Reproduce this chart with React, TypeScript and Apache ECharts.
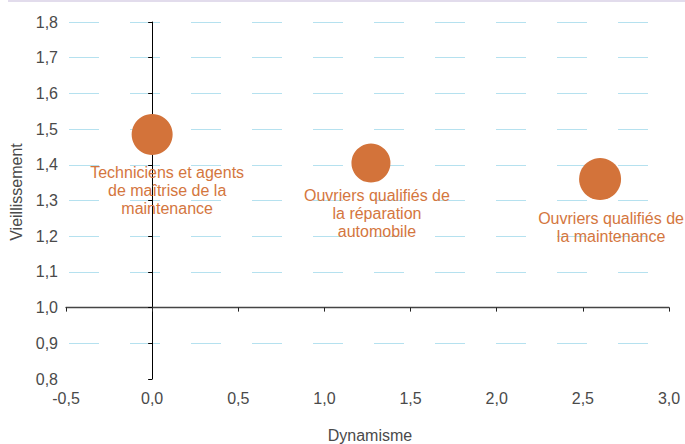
import React, { useEffect, useRef } from "react";
import * as echarts from "echarts";

// ---- Data ----
const categories = [
  "Techniciens et agents\nde maîtrise de la\nmaintenance",
  "Ouvriers qualifiés de\nla réparation\nautomobile",
  "Ouvriers qualifiés de\nla maintenance",
];
const dynamisme = [0.0, 1.27, 2.6];
const vieillissement = [1.485, 1.405, 1.36];
const bubbleSize = [41, 39, 42];

const xMin = -0.5;
const xMax = 3.0;
const xStep = 0.5;
const yMin = 0.8;
const yMax = 1.8;
const yStep = 0.1;
const xCross = 0; // y axis drawn at Dynamisme = 0
const yCross = 1.0; // x axis drawn at Vieillissement = 1.0

const xName = "Dynamisme";
const yName = "Vieillissement";

// label placements relative to bubble centres (pixels)
const labelOffsets = [
  [15, 56],
  [6, 50],
  [11, 48],
];

const fmt = (v: number) => v.toFixed(1).replace(".", ",");

export default function App() {
  const ref = useRef<HTMLDivElement>(null);

  useEffect(() => {
    if (!ref.current) return;
    const chart = echarts.init(ref.current, undefined, { renderer: "svg" });

    const gridLeft = 66;
    const gridTop = 22;
    const gridWidth = 603;
    const gridHeight = 357;
    const xCrossPx = ((xCross - xMin) / (xMax - xMin)) * gridWidth;
    const yCrossPx = ((yCross - yMin) / (yMax - yMin)) * gridHeight;

    const font = "Liberation Sans, Arial, sans-serif";
    const labelColor = "#4a4a4a";
    const orange = "#D3733A";

    chart.setOption({
      animation: false,
      backgroundColor: "#ffffff",
      textStyle: { fontFamily: font },
      grid: {
        left: gridLeft,
        top: gridTop,
        width: gridWidth,
        height: gridHeight,
        containLabel: false,
        outerBoundsMode: "none",
      },
      xAxis: [
        {
          type: "value",
          min: xMin,
          max: xMax,
          interval: xStep,
          position: "bottom",
          axisLine: { show: false },
          axisTick: { show: false },
          splitLine: { show: false },
          axisLabel: {
            formatter: fmt,
            color: labelColor,
            fontSize: 16,
            margin: 11,
            fontFamily: font,
          },
          name: xName,
          nameLocation: "middle",
          nameGap: 48,
          nameTextStyle: {
            color: labelColor,
            fontSize: 16,
            fontFamily: font,
            padding: [0, 0, 0, 5],
          },
        },
        {
          type: "value",
          min: xMin,
          max: xMax,
          interval: xStep,
          position: "bottom",
          offset: -yCrossPx,
          axisLine: { show: true, onZero: false, lineStyle: { color: "#444", width: 1.3 } },
          axisTick: { show: true, length: 4, lineStyle: { color: "#222", width: 1 } },
          axisLabel: { show: false },
          splitLine: { show: false },
        },
      ],
      yAxis: [
        {
          type: "value",
          min: yMin,
          max: yMax,
          interval: yStep,
          position: "left",
          axisLine: { show: false },
          axisTick: { show: false },
          axisLabel: {
            formatter: fmt,
            color: labelColor,
            fontSize: 16,
            margin: 8,
            fontFamily: font,
          },
          splitLine: {
            show: true,
            showMinLine: false,
            lineStyle: {
              color: "#b5e1ef",
              width: 1,
              type: [30, 31],
              dashOffset: -3,
            },
          },
        },
        {
          type: "value",
          min: yMin,
          max: yMax,
          interval: yStep,
          position: "left",
          offset: -xCrossPx,
          axisLine: { show: true, onZero: false, lineStyle: { color: "#000", width: 1 } },
          axisTick: { show: true, length: 4, lineStyle: { color: "#000", width: 1 } },
          axisLabel: { show: false },
          splitLine: { show: false },
        },
      ],
      graphic: [
        {
          type: "rect",
          shape: { x: 8, y: 0, width: 677, height: 2 },
          style: { fill: "#e2dcec" },
          silent: true,
        },
        {
          type: "text",
          x: 16,
          y: 192,
          rotation: Math.PI / 2,
          style: {
            text: yName,
            fill: labelColor,
            font: `16px ${font}`,
            align: "center",
            verticalAlign: "middle",
          },
        },
      ],
      series: [
        {
          type: "scatter",
          xAxisIndex: 0,
          yAxisIndex: 0,
          itemStyle: { color: orange, opacity: 1 },
          label: {
            show: true,
            position: "inside",
            formatter: "{b}",
            color: "#D4763E",
            fontSize: 16,
            lineHeight: 18,
            fontFamily: font,
            align: "center",
            verticalAlign: "middle",
          },
          data: dynamisme.map((x, i) => ({
            name: categories[i],
            value: [x, vieillissement[i]],
            symbolSize: bubbleSize[i],
            label: { offset: labelOffsets[i] },
          })),
        },
      ],
    });

    return () => chart.dispose();
  }, []);

  return (
    <div
      ref={ref}
      style={{ position: "fixed", left: 0, top: 0, width: 685, height: 444 }}
    />
  );
}
